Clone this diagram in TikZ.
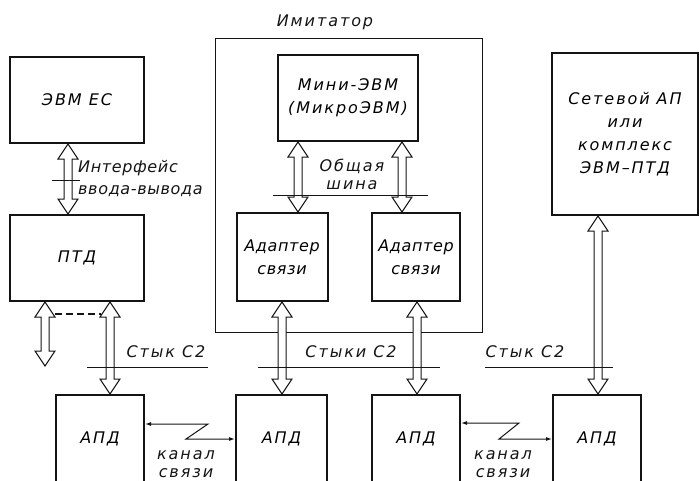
\documentclass[tikz,border=0pt]{standalone}
\usepackage{fontspec}
\setmainfont{DejaVu Sans}[LetterSpace=12]
\newfontfamily\tightfont{DejaVu Sans}[LetterSpace=4]
\usetikzlibrary{arrows.meta,positioning,calc}
\definecolor{ink}{RGB}{20,20,20}
\tikzset{
  box/.style={draw=ink,line width=2pt,inner sep=0pt,align=center,
    font=\fontsize{16}{23}\selectfont\itshape},
  tag/.style={font=\fontsize{16}{21}\selectfont\itshape,text=ink,align=center,inner sep=0pt},
  bus/.style={draw=ink,fill=white,line width=1pt,line join=miter,to path={
    let \p1=(\tikztostart),\p2=(\tikztotarget) in
    (\x1,\y1) -- (\x1+10pt,\y1-15pt) -- (\x1+4pt,\y1-15pt) -- (\x1+4pt,\y2+15pt)
    -- (\x1+10pt,\y2+15pt) -- (\x1,\y2) -- (\x1-10pt,\y2+15pt) -- (\x1-4pt,\y2+15pt)
    -- (\x1-4pt,\y1-15pt) -- (\x1-10pt,\y1-15pt) -- cycle}},
  cut/.style={draw=ink,line width=0.8pt},
  link/.style={draw=ink,line width=1pt,{Latex[length=6pt,width=4pt]}-{Latex[length=6pt,width=4pt]}},
}
\begin{document}
\begin{tikzpicture}[x=1pt,y=-1pt]
  \useasboundingbox (0,0) rectangle (699,480);
  % simulator frame
  \draw[ink,line width=0.9pt] (215,38) rectangle (482,332);
  \node[tag] (sim) at (325,22) {Имитатор};
  % blocks
  \node[box,minimum width=134,minimum height=86] (evm) at (77,100) {ЭВМ ЕС};
  \node[box,minimum width=134,minimum height=86] (ptd) at (77,258) {ПТД};
  \node[box,minimum width=140,minimum height=86] (mini) at (348,98) {Мини-ЭВМ\\(МикроЭВМ)};
  \node[box,minimum width=91,minimum height=88,font=\fontsize{16}{23}\selectfont\tightfont\itshape] (ada1) at (282,257) {Адаптер\\связи};
  \node[box,minimum width=88,minimum height=88,font=\fontsize{16}{23}\selectfont\tightfont\itshape] (ada2) at (416,257) {Адаптер\\связи};
  \node[box,minimum width=146,minimum height=162] (net) at (625,134)
    {Сетевой АП\\или\\комплекс\\ЭВМ–ПТД};
  \node[box,minimum width=88,minimum height=88] (apd1) at (100,439) {АПД};
  \node[box,minimum width=91,minimum height=88] (apd2) at (281.5,439) {АПД};
  \node[box,minimum width=88,minimum height=88] (apd3) at (416,439) {АПД};
  \node[box,minimum width=88,minimum height=88] (apd4) at (597,439) {АПД};
  \coordinate (free) at (45,366);
  % interfaces
  \draw[bus] ([xshift=-9]evm.south) to (ptd.north);
  \draw[bus] ([xshift=-32]ptd.south) to (free);
  \draw[bus] ([xshift=33]ptd.south) to (apd1.north);
  \draw[bus] ([xshift=-50]mini.south) to (ada1.north);
  \draw[bus] ([xshift=54]mini.south) to (ada2.north);
  \draw[bus] (ada1.south) to (apd2.north);
  \draw[bus] ([xshift=1]ada2.south) to (apd3.north);
  \draw[bus] ([xshift=-27]net.south) to (apd4.north);
  \draw[ink,line width=1.2pt,dash pattern=on 7pt off 4pt] ([xshift=-22,yshift=-12]ptd.south) -- ([xshift=24,yshift=-12]ptd.south);
  % cut lines
  \draw[cut] (52,180) -- (80,180);
  \draw[cut] (273,195) -- (428,195);
  \draw[cut] (87,367) -- (208,367);
  \draw[cut] (258,367) -- (440,367);
  \draw[cut] (485,367) -- (613,367);
  \node[tag,anchor=west,align=left,font=\fontsize{16}{22}\selectfont\tightfont\itshape] (io) at (78,179) {Интерфейс\\ввода-вывода};
  \node[tag,font=\fontsize{16}{18}\selectfont\itshape] (shina) at (352,174) {Общая\\шина};
  \node[tag] (st1) at (166,352) {Стык С2};
  \node[tag] (st2) at (351,352) {Стыки С2};
  \node[tag] (st3) at (525,352) {Стык С2};
  % channels
  \draw[link] ([yshift=15]apd1.east) -- ++(63,0) -- ++(-22,15) -- (apd2.west);
  \draw[link] ([yshift=16]apd3.east) -- ++(58,0) -- ++(-20,16) -- (apd4.west);
  \node[tag,font=\fontsize{16}{18}\selectfont\itshape] (ch1) at (186,464) {канал\\связи};
  \node[tag,font=\fontsize{16}{18}\selectfont\itshape] (ch2) at (503,464) {канал\\связи};
\end{tikzpicture}
\end{document}
